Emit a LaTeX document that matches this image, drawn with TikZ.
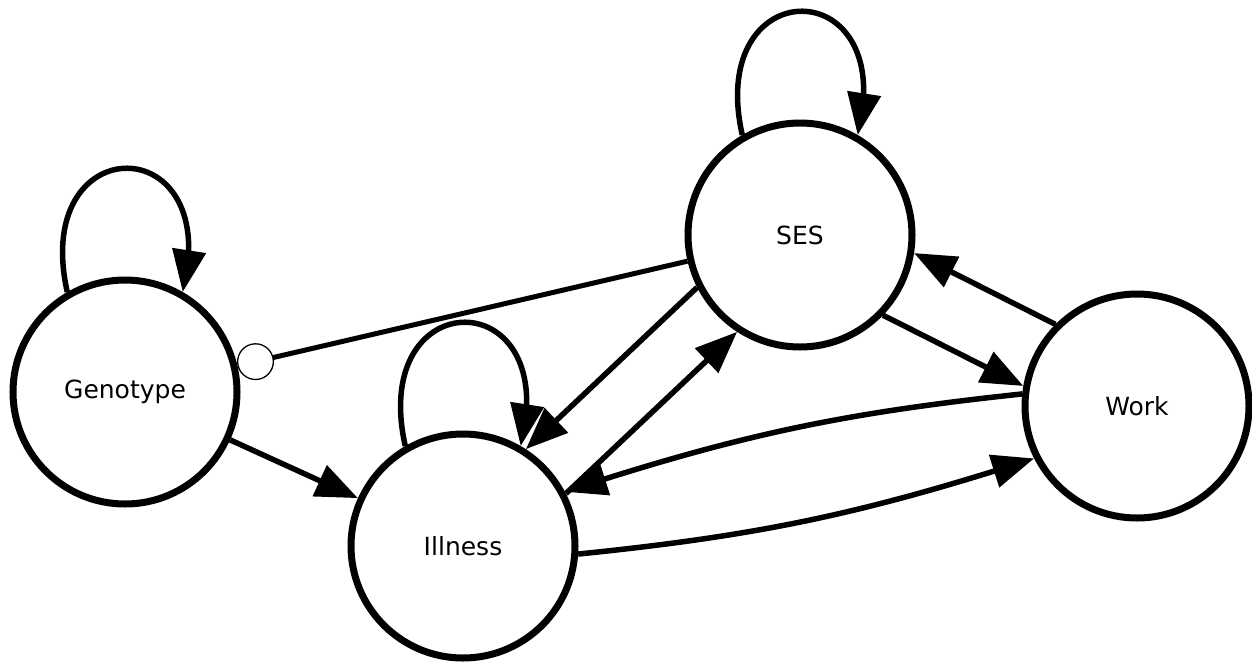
\documentclass[tikz,border=0pt]{standalone}
\usepackage{fontspec}
\setmainfont{DejaVu Sans}
\usetikzlibrary{arrows.meta,bending}
\begin{document}
\begin{tikzpicture}[x=1pt,y=-1pt,
  var/.style={circle,draw,line width=7pt,minimum size=224pt,inner sep=0pt,
    font=\fontsize{25}{30}\selectfont},
  arr/.style={line width=5.5pt,-{Triangle[length=42pt,width=33pt]}},
  conn/.style={line width=5pt},
  oend/.style={{Circle[open,length=37pt,width=37pt,line width=1.3pt]}-}]
\useasboundingbox (0,0) rectangle (1252,662);
\node[var] (g) at (125,392) {Genotype};
\node[var] (i) at (463,546) {Illness};
\node[var] (s) at (800,235) {SES};
\node[var] (w) at (1137,406) {Work};
% self loops
\draw[arr] (g.120) .. controls +(-37,-165) and +(42,-165) .. (g.60);
\draw[arr] (i.120) .. controls +(-37,-165) and +(42,-165) .. (i.60);
\draw[arr] (s.120) .. controls +(-37,-165) and +(42,-165) .. (s.60);
% genotype links
\draw[conn,oend] (g) -- (s);
\draw[arr] (g) -- (i);
% SES <-> Illness
\draw[arr] (s.207.6) -- (i.57.8);
\draw[arr] (i.27.6) -- (s.237.8);
% SES <-> Work
\draw[arr] (s.-44.1) -- (w.170.3);
\draw[arr] (w.135.9) -- (s.-9.7);
% Illness <-> Work
\draw[arr] (i.-4.3) to[bend right=6] (w.207.7);
\draw[arr] (w.174.6) to[bend right=6] (i.28.8);
\end{tikzpicture}
\end{document}
